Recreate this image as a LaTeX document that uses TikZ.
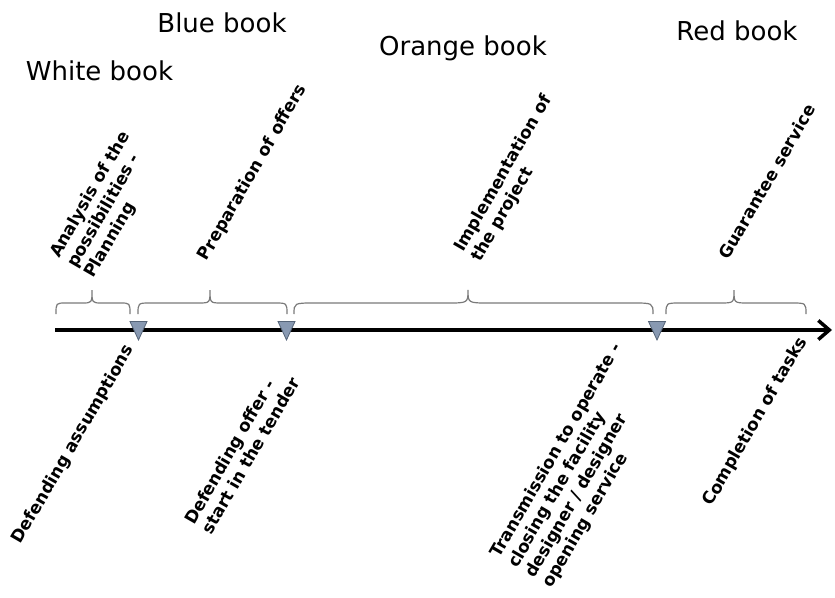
\documentclass[tikz,border=0pt]{standalone}
\usepackage{fontspec}
\setmainfont{DejaVu Sans}
\usetikzlibrary{arrows.meta}

\definecolor{msfill}{RGB}{136,153,178}
\definecolor{msdraw}{RGB}{85,100,120}

\tikzset{
  book/.style={font=\fontsize{26}{31}\selectfont, inner sep=0pt, anchor=base},
  stage/.style={font=\fontsize{17}{20}\selectfont\bfseries, rotate=60, align=left,
    inner sep=0pt, anchor=south west},
  phase/.style={draw=black!52, line width=1.2pt},
  milestone/.style={fill=msfill, draw=msdraw, line width=0.8pt},
  timeline/.style={line width=3.5pt, -{Straight Barb[length=11pt,width=19pt]}}
}

% brace over one phase: left end, tip, right end, curl
\newcommand\phasebrace[4]{%
  \draw[phase] (#1,314) .. controls (#1,303) .. (#1+#4,303) -- (#2-#4,303)
    .. controls (#2,303) .. (#2,290) .. controls (#2,303) .. (#2+#4,303)
    -- (#3-#4,303) .. controls (#3,303) .. (#3,314);}

\begin{document}
\begin{tikzpicture}[x=1pt,y=-1pt]
\useasboundingbox (0,0) rectangle (835,597);

% books
\node[book] (white) at (99.5,80) {White book};
\node[book] (blue) at (222,32) {Blue book};
\node[book] (orange) at (463,55) {Orange book};
\node[book] (red) at (737,40) {Red book};

% time axis
\coordinate (start) at (55,330);
\coordinate (end) at (832,330);
\draw[timeline] (start) -- (end);

% phases
\phasebrace{56}{92}{130}{10}
\phasebrace{138}{210}{287}{12}
\phasebrace{294}{468}{653}{21}
\phasebrace{666}{734}{806}{14}

% milestones
\coordinate (m1) at (138.5,330);
\coordinate (m2) at (286.5,330);
\coordinate (m3) at (657,330);
\foreach \m in {m1,m2,m3}
  \filldraw[milestone] (\m) ++(-8.5,-8.5) -- ++(17,0) -- ++(-8.5,18.5) -- cycle;

% what happens in each phase
\node[stage] (analysis) at (97,281) {Analysis of the\\possibilities -\\Planning};
\node[stage] (offers) at (210,264) {Preparation of offers};
\node[stage] (project) at (484,265) {Implementation of\\the project};
\node[stage] (guarantee) at (729,261) {Guarantee service};

% events at the milestones
\node[stage] (assume) at (24,547) {Defending assumptions};
\node[stage] (tender) at (212,536) {Defending offer -\\start in the tender};
\node[stage] (operate) at (555,591) {Transmission to operate -\\closing the facility\\designer / designer\\opening service};
\node[stage] (tasks) at (715,509) {Completion of tasks};
\end{tikzpicture}
\end{document}
